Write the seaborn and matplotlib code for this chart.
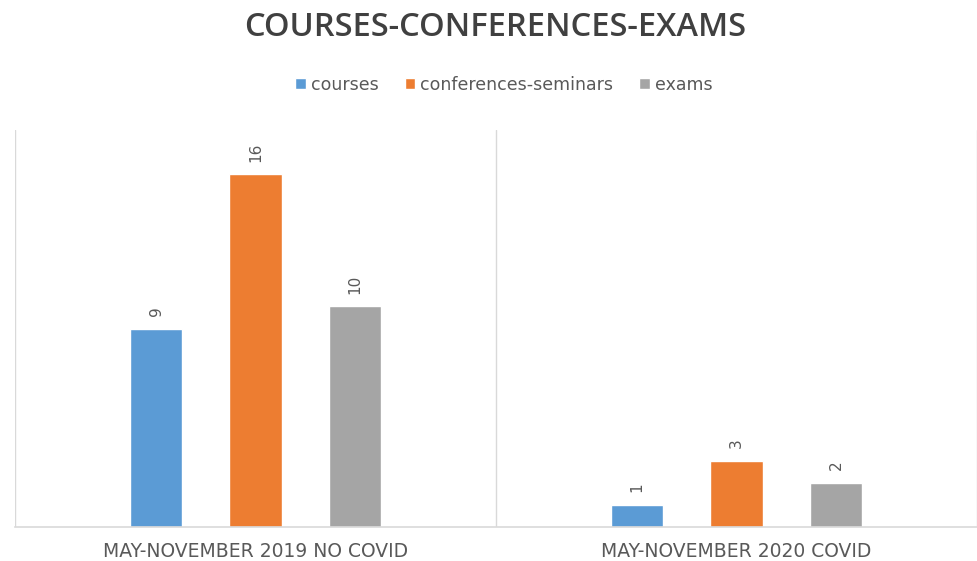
import matplotlib
matplotlib.use("Agg")
import matplotlib.pyplot as plt
import seaborn as sns
import pandas as pd

periods = ["MAY-NOVEMBER 2019 NO COVID", "MAY-NOVEMBER 2020 COVID"]
series = ["courses", "conferences-seminars", "exams"]
courses = [9, 1]
conferences = [16, 3]
exams = [10, 2]
colors = ["#5B9BD5", "#ED7D31", "#A5A5A5"]
title = "COURSES-CONFERENCES-EXAMS"

rows = []
for name, vals in zip(series, [courses, conferences, exams]):
    for p, v in zip(periods, vals):
        rows.append({"period": p, "type": name, "count": v})
df = pd.DataFrame(rows)

sns.set_theme(style="white")
plt.rcParams["font.family"] = ["DejaVu Sans"]

fig = plt.figure(figsize=(9.78, 5.61), dpi=100)
ax = fig.add_axes([15/978, 34/561, 962/978, 397/561])

sns.barplot(data=df, x="period", y="count", hue="type", order=periods,
            hue_order=series, palette=colors, width=0.62, gap=0.47,
            saturation=1, ax=ax, legend=True)

ax.set_xlim(-0.5, 1.5)
ax.set_ylim(0, 18)
for s in ["left", "right", "top"]:
    ax.spines[s].set_visible(False)
ax.spines["bottom"].set_color("#d9d9d9")
ax.spines["bottom"].set_linewidth(1.2)
for xv in [-0.5, 0.5, 1.5]:
    ax.axvline(xv, color="#d9d9d9", lw=1.0, zorder=0)

ax.set_yticks([])
ax.set_xlabel("")
ax.set_ylabel("")
ax.tick_params(axis="x", length=0, pad=11)
for lab in ax.get_xticklabels():
    lab.set_fontsize(13.5)
    lab.set_color("#595959")

for cont in ax.containers:
    ax.bar_label(cont, rotation=90, padding=9, fontsize=11, color="#595959")

leg = ax.get_legend()
handles, labels = ax.get_legend_handles_labels()
leg.remove()
fig.legend(handles, labels, loc="center", bbox_to_anchor=(504/978, 1 - 85/561),
           ncol=3, frameon=False, fontsize=12.5, handlelength=0.6, handleheight=0.6,
           handletextpad=0.3, columnspacing=1.5, labelcolor="#595959")

fig.text(495/978, 1 - 28/561, title, ha="center", va="center", fontsize=23.5,
         fontweight="semibold", family=["Open Sans", "DejaVu Sans"], color="#404040")

fig.savefig("out.png", dpi=100)
